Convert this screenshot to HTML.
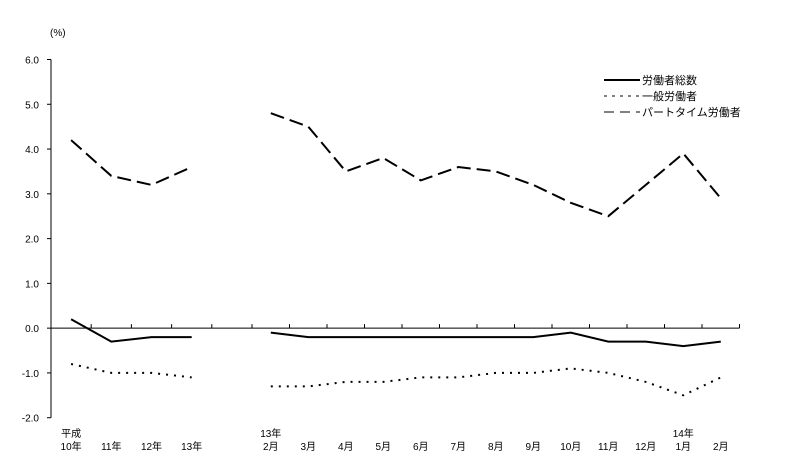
<!DOCTYPE html>
<html><head><meta charset="utf-8"><style>
body{margin:0;background:#fff;}
svg{display:block;font-family:"Liberation Sans","Noto Sans CJK JP",sans-serif;}
</style></head><body>
<svg id="chart" width="800" height="469" viewBox="0 0 800 469"></svg>
<script>
const yearCats = ["平成\n10年","11年","12年","13年"];
const monthCats = ["13年\n2月","3月","4月","5月","6月","7月","8月","9月","10月","11月","12月","14年\n1月","2月"];
const totalYear = [0.2,-0.3,-0.2,-0.2];
const totalMonth = [-0.1,-0.2,-0.2,-0.2,-0.2,-0.2,-0.2,-0.2,-0.1,-0.3,-0.3,-0.4,-0.3];
const generalYear = [-0.8,-1.0,-1.0,-1.1];
const generalMonth = [-1.3,-1.3,-1.2,-1.2,-1.1,-1.1,-1.0,-1.0,-0.9,-1.0,-1.2,-1.5,-1.1];
const partYear = [4.2,3.4,3.2,3.6];
const partMonth = [4.8,4.5,3.5,3.8,3.3,3.6,3.5,3.2,2.8,2.5,3.2,3.9,2.9];
const yTicks = ["6.0","5.0","4.0","3.0","2.0","1.0","0.0","-1.0","-2.0"];
const seriesNames = ["労働者総数","一般労働者","パートタイム労働者"];

const NS="http://www.w3.org/2000/svg";
const svg=document.getElementById('chart');
function el(t,a,p){const e=document.createElementNS(NS,t);for(const k in a)e.setAttribute(k,a[k]);(p||svg).appendChild(e);return e;}
const X0=51, yTop=59.5, yBot=417.7, yMin=-2, yMax=6;
function y(v){return yBot-(v-yMin)/(yMax-yMin)*(yBot-yTop);}
const bw1=40.2, split=X0+5*bw1, bw2=37.5;
function xYear(i){return X0+(i+0.5)*bw1;}
function xMonth(i){return split+(i+0.5)*bw2;}

// axes
const ax=el('line',{x1:X0,y1:yTop,x2:X0,y2:yBot,stroke:'#000','stroke-width':1});


yTicks.forEach(t=>{
  const v=parseFloat(t);
  const tk=el('line',{x1:X0-4,y1:y(v),x2:X0,y2:y(v),stroke:'#000'});
  
  
  const tx=el('text',{x:39,y:y(v)+4,'text-anchor':'end','font-size':10});
  tx.textContent=t;
  
  
});
const xa=el('line',{x1:X0,y1:y(0),x2:split+13*bw2,y2:y(0),stroke:'#000'});


const tickXs=[];
for(let i=1;i<=5;i++)tickXs.push(X0+i*bw1);
for(let i=1;i<=13;i++)tickXs.push(split+i*bw2);
tickXs.forEach(tx=>{
  const t=el('line',{x1:tx,y1:y(0)-4,x2:tx,y2:y(0),stroke:'#000'});
  
  
});
const unit=el('text',{x:50,y:36,'font-size':10});
unit.textContent='(%)';



function catLabel(lbl,x){
  const parts=lbl.split('\n');
  parts.forEach((p,j)=>{
    const yy = parts.length===2 ? 437+j*13 : 450;
    const t=el('text',{x:x,y:yy,'text-anchor':'middle','font-size':10});
    t.textContent=p;
    
    
  });
}
yearCats.forEach((c,i)=>catLabel(c,xYear(i)));
monthCats.forEach((c,i)=>catLabel(c,xMonth(i)));

function poly(vals,xf,style,name){
  const pts=vals.map((v,i)=>xf(i).toFixed(1)+','+y(v).toFixed(1)).join(' ');
  const p=el('polyline',Object.assign({points:pts,fill:'none',stroke:'#000'},style));
  
  
}
const sSolid={'stroke-width':2};
const sDot={'stroke-width':2,'stroke-dasharray':'2 6'};
const sDash={'stroke-width':2,'stroke-dasharray':'14 6'};
poly(totalYear,xYear,sSolid,'total-line-annual');
poly(totalMonth,xMonth,sSolid,'total-line-monthly');
poly(generalYear,xYear,sDot,'general-line-annual');
poly(generalMonth,xMonth,sDot,'general-line-monthly');
poly(partYear,xYear,sDash,'parttime-line-annual');
poly(partMonth,xMonth,sDash,'parttime-line-monthly');

// legend
const lg=el('g',{});


const lstyles=[sSolid,{'stroke-width':1,'stroke-dasharray':'3 5'},{'stroke-width':1,'stroke-dasharray':'10 6'}];
seriesNames.forEach((n,i)=>{
  const yy=80+i*16;
  const g=el('g',{},lg);
  
  
  el('line',Object.assign({x1:604,y1:yy,x2:640,y2:yy,stroke:'#000'},lstyles[i]),g);
  const t=el('text',{x:642,y:yy+4,'font-size':11},g);
  t.textContent=n;
});
</script>
</body></html>
